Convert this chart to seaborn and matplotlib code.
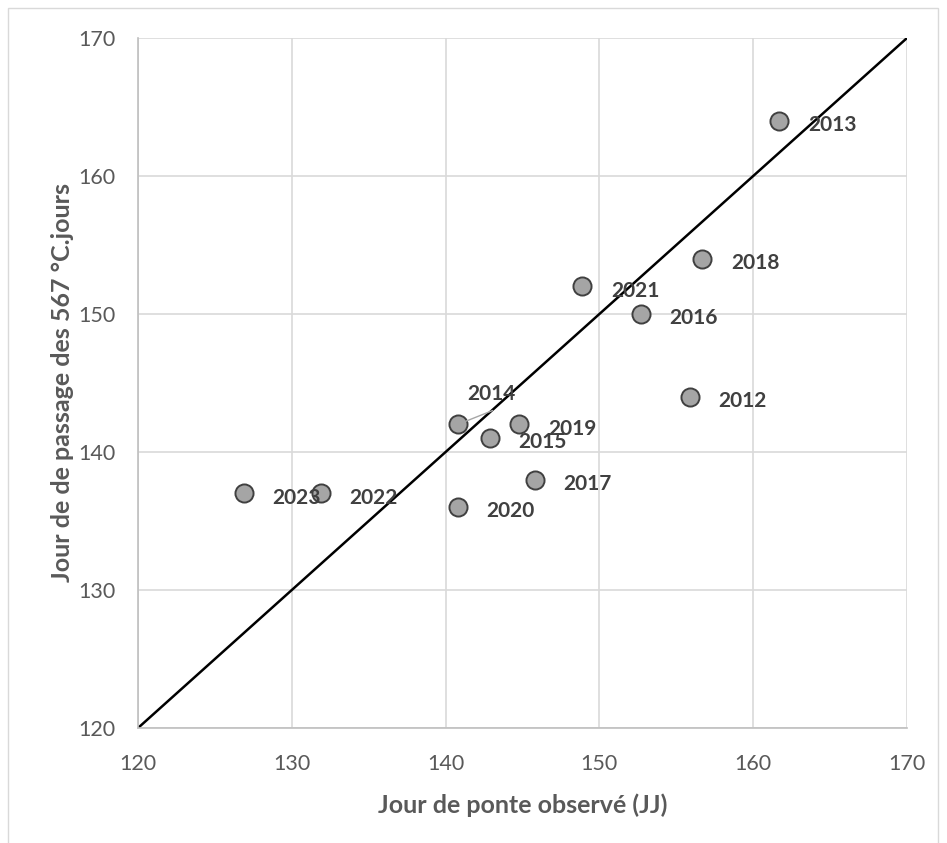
import matplotlib
matplotlib.use("Agg")
import matplotlib.pyplot as plt
import seaborn as sns
import pandas as pd
from matplotlib.patches import Rectangle

# Observed laying day vs. day the 567 °C.days threshold is reached
years = ["2012", "2013", "2014", "2015", "2016", "2017",
         "2018", "2019", "2020", "2021", "2022", "2023"]
observed = [155.9, 161.7, 140.8, 142.9, 152.7, 145.8, 156.7, 144.8, 140.8, 148.9, 131.9, 126.9]
predicted = [144, 164, 142, 141, 150, 138, 154, 142, 136, 152, 137, 137]

# 1:1 reference line
diag = [120, 170]

x_ticks = [120, 130, 140, 150, 160, 170]
y_ticks = [120, 130, 140, 150, 160, 170]

df = pd.DataFrame({"annee": years, "observe": observed, "predit": predicted})

sns.set_theme(style="white")
plt.rcParams["font.family"] = ["Lato", "DejaVu Sans"]

fig = plt.figure(figsize=(9.47, 8.43), dpi=100)
ax = fig.add_axes([138 / 947, 1 - 728 / 843, (907 - 138) / 947, (728 - 38) / 843])

# outer chart frame
fig.patches.append(Rectangle((7.5 / 947, -0.01), (938 - 7.5) / 947, 1 - 8 / 843 + 0.01,
                             transform=fig.transFigure, fill=False,
                             edgecolor="#d9d9d9", linewidth=1.0, zorder=0))

ax.set_xlim(120, 170)
ax.set_ylim(120, 170)
ax.set_xticks(x_ticks)
ax.set_yticks(y_ticks)
ax.grid(True, color="#d9d9d9", linewidth=1.2)
ax.set_axisbelow(True)
for side in ["top", "right"]:
    ax.spines[side].set_visible(False)
for side in ["left", "bottom"]:
    ax.spines[side].set_color("#bfbfbf")
    ax.spines[side].set_linewidth(1.2)

sns.lineplot(x=diag, y=diag, ax=ax, color="black", linewidth=1.8, zorder=2)
sns.scatterplot(data=df, x="observe", y="predit", ax=ax, s=170,
                color="#a5a5a5", edgecolor="#404040", linewidth=1.4, zorder=3)

label_kw = dict(textcoords="offset points", fontsize=15, fontweight="bold",
                color="#404040", va="center", ha="left", zorder=4)
for yr, xo, yo in zip(years, observed, predicted):
    if yr == "2014":
        ax.annotate(yr, (xo, yo), xytext=(7, 22), **label_kw)
        ax.annotate("", (xo, yo), xytext=(25, 10), textcoords="offset points",
                    arrowprops=dict(arrowstyle="-", color="#a6a6a6", lw=1.0,
                                    shrinkA=0, shrinkB=6))
    else:
        ax.annotate(yr, (xo, yo), xytext=(20.5, -3), **label_kw)

ax.tick_params(axis="both", length=0, labelsize=15.5, labelcolor="#595959")
ax.tick_params(axis="x", pad=19)
ax.tick_params(axis="y", pad=16)

ax.set_xlabel("Jour de ponte observé (JJ)", fontsize=18, fontweight="bold",
              color="#595959", labelpad=14)
ax.set_ylabel("Jour de de passage des 567 °C.jours", fontsize=18, fontweight="bold",
              color="#595959", labelpad=3)

fig.savefig("out.png", dpi=100)
